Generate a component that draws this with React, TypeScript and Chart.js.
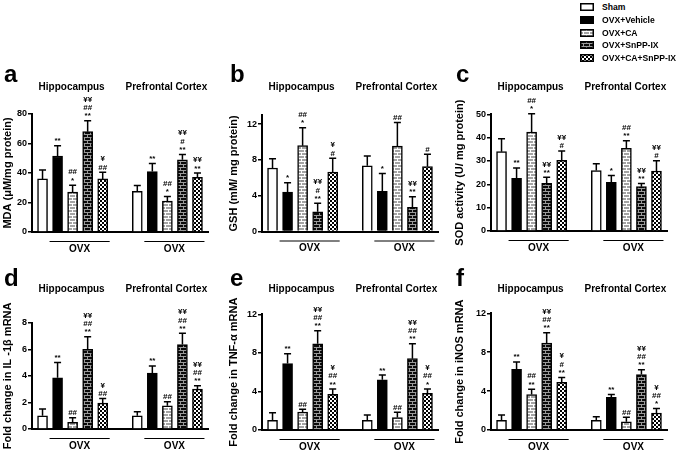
import React, { useEffect, useRef } from 'react';
import { Chart, registerables } from 'chart.js';

Chart.register(...registerables);

const FONT = "'Liberation Sans', Arial, Helvetica, sans-serif";

// ---------- data ----------
const GROUPS = ['Sham', 'OVX+Vehicle', 'OVX+CA', 'OVX+SnPP-IX', 'OVX+CA+SnPP-IX'];
const REGIONS = ['Hippocampus', 'Prefrontal Cortex'];
const OVX_LABEL = 'OVX';

// (a) MDA
const MDA_TITLE = 'MDA (\u03bcM/mg protein)';
const MDA_TICKS = [0, 20, 40, 60, 80];
const MDA_HIP = [36, 51.5, 27, 68, 36];
const MDA_HIP_ERR = [6, 7, 4.7, 7.5, 4.5];
const MDA_PFC = [27.5, 41, 21, 49, 37];
const MDA_PFC_ERR = [4, 5.5, 3, 3.5, 3];
const MDA_HIP_SIG = ['', '**', '##\n*', '\u00a5\u00a5\n##\n**', '\u00a5\n##'];
const MDA_PFC_SIG = ['', '**', '##\n*', '\u00a5\u00a5\n#\n**', '\u00a5\u00a5\n**'];

// (b) GSH
const GSH_TITLE = 'GSH (mM/ mg protein)';
const GSH_TICKS = [0, 4, 8, 12];
const GSH_HIP = [7.1, 4.4, 9.6, 2.2, 6.65];
const GSH_HIP_ERR = [1.05, 1.05, 2.0, 0.95, 1.55];
const GSH_PFC = [7.35, 4.5, 9.55, 2.7, 7.25];
const GSH_PFC_ERR = [1.1, 2.0, 2.65, 1.2, 1.4];
const GSH_HIP_SIG = ['', '*', '##\n*', '\u00a5\u00a5\n#\n**', '\u00a5\n#'];
const GSH_PFC_SIG = ['', '*', '##', '\u00a5\u00a5\n**', '#'];

// (c) SOD
const SOD_TITLE = 'SOD activity (U/ mg protein)';
const SOD_TICKS = [0, 10, 20, 30, 40, 50];
const SOD_HIP = [34, 22.6, 42.4, 20.4, 30.3];
const SOD_HIP_ERR = [5.5, 4.4, 7.8, 2.6, 4];
const SOD_PFC = [25.9, 20.9, 35.4, 19, 25.7];
const SOD_PFC_ERR = [2.9, 2.9, 3.3, 1.3, 4.4];
const SOD_HIP_SIG = ['', '**', '##\n*', '\u00a5\u00a5\n**', '\u00a5\u00a5\n#'];
const SOD_PFC_SIG = ['', '*', '##\n**', '\u00a5\u00a5\n**', '\u00a5\u00a5\n#'];

// (d) IL-1beta
const IL_TITLE = 'Fold change in IL -1\u03b2 mRNA';
const IL_TICKS = [0, 2, 4, 6, 8];
const IL_HIP = [1.0, 3.85, 0.5, 6.0, 1.95];
const IL_HIP_ERR = [0.5, 1.15, 0.35, 0.95, 0.35];
const IL_PFC = [1.0, 4.2, 1.75, 6.35, 3.0];
const IL_PFC_ERR = [0.3, 0.55, 0.3, 0.85, 0.25];
const IL_HIP_SIG = ['', '**', '##', '\u00a5\u00a5\n##\n**', '\u00a5\n##'];
const IL_PFC_SIG = ['', '**', '##', '\u00a5\u00a5\n##\n**', '\u00a5\u00a5\n##\n**'];

// (e) TNF-alpha
const TNF_TITLE = 'Fold change in TNF-\u03b1 mRNA';
const TNF_TICKS = [0, 4, 8, 12];
const TNF_HIP = [1.0, 6.9, 1.85, 8.95, 3.7];
const TNF_HIP_ERR = [0.8, 1.0, 0.3, 1.35, 0.55];
const TNF_PFC = [1.0, 5.2, 1.3, 7.4, 3.8];
const TNF_PFC_ERR = [0.55, 0.5, 0.55, 1.55, 0.45];
const TNF_HIP_SIG = ['', '**', '##', '\u00a5\u00a5\n##\n**', '\u00a5\n##\n**'];
const TNF_PFC_SIG = ['', '**', '##', '\u00a5\u00a5\n##\n**', '\u00a5\n##\n*'];

// (f) iNOS
const INOS_TITLE = 'Fold change in iNOS mRNA';
const INOS_TICKS = [0, 4, 8, 12];
const INOS_HIP = [1.0, 6.25, 3.65, 8.95, 4.9];
const INOS_HIP_ERR = [0.55, 0.75, 0.55, 1.05, 0.5];
const INOS_PFC = [1.0, 3.35, 0.85, 5.7, 1.75];
const INOS_PFC_ERR = [0.35, 0.3, 0.45, 0.5, 0.45];
const INOS_HIP_SIG = ['', '**', '##\n**', '\u00a5\u00a5\n##\n**', '\u00a5\n#\n**'];
const INOS_PFC_SIG = ['', '**', '##', '\u00a5\u00a5\n##\n**', '\u00a5\n##\n*'];

// ---------- layout ----------
const GROUP_SHIFT = 6.3; // index distance between the two region groups
const X_MIN = -0.7;
const X_MAX = 11.0;
const AXIS_W = 176;

const xPos = (r: number, g: number) => r * GROUP_SHIFT + g;

type Panel = {
  letter: string; yTitle: string; ticks: number[]; yMax: number;
  values: number[][]; errors: number[][]; sigs: string[][];
  left: number; top: number; w: number; h: number;
  axisX: number; chartTop: number; chartBottom: number; titleY: number; letterY: number;
};

const PANELS: Panel[] = [
  { letter: 'a', yTitle: MDA_TITLE, ticks: MDA_TICKS, yMax: 80,
    values: [MDA_HIP, MDA_PFC], errors: [MDA_HIP_ERR, MDA_PFC_ERR], sigs: [MDA_HIP_SIG, MDA_PFC_SIG],
    left: 0, top: 60, w: 226, h: 193, axisX: 32, chartTop: 114, chartBottom: 232, titleY: 27, letterY: 15 },
  { letter: 'b', yTitle: GSH_TITLE, ticks: GSH_TICKS, yMax: 13,
    values: [GSH_HIP, GSH_PFC], errors: [GSH_HIP_ERR, GSH_PFC_ERR], sigs: [GSH_HIP_SIG, GSH_PFC_SIG],
    left: 226, top: 60, w: 226, h: 193, axisX: 262, chartTop: 115.3, chartBottom: 231.5, titleY: 27, letterY: 15 },
  { letter: 'c', yTitle: SOD_TITLE, ticks: SOD_TICKS, yMax: 50,
    values: [SOD_HIP, SOD_PFC], errors: [SOD_HIP_ERR, SOD_PFC_ERR], sigs: [SOD_HIP_SIG, SOD_PFC_SIG],
    left: 452, top: 60, w: 224, h: 193, axisX: 491, chartTop: 114.3, chartBottom: 231, titleY: 27, letterY: 15 },
  { letter: 'd', yTitle: IL_TITLE, ticks: IL_TICKS, yMax: 8,
    values: [IL_HIP, IL_PFC], errors: [IL_HIP_ERR, IL_PFC_ERR], sigs: [IL_HIP_SIG, IL_PFC_SIG],
    left: 0, top: 258, w: 226, h: 195, axisX: 32, chartTop: 322.7, chartBottom: 429, titleY: 31, letterY: 21 },
  { letter: 'e', yTitle: TNF_TITLE, ticks: TNF_TICKS, yMax: 12,
    values: [TNF_HIP, TNF_PFC], errors: [TNF_HIP_ERR, TNF_PFC_ERR], sigs: [TNF_HIP_SIG, TNF_PFC_SIG],
    left: 226, top: 258, w: 226, h: 195, axisX: 262, chartTop: 314.3, chartBottom: 430, titleY: 31, letterY: 21 },
  { letter: 'f', yTitle: INOS_TITLE, ticks: INOS_TICKS, yMax: 12,
    values: [INOS_HIP, INOS_PFC], errors: [INOS_HIP_ERR, INOS_PFC_ERR], sigs: [INOS_HIP_SIG, INOS_PFC_SIG],
    left: 452, top: 258, w: 224, h: 195, axisX: 491, chartTop: 313.3, chartBottom: 430, titleY: 31, letterY: 21 },
];

// ---------- fill patterns ----------
function makeTile(kind: number): HTMLCanvasElement {
  const c = document.createElement('canvas');
  const x = c.getContext('2d')!;
  if (kind === 2 || kind === 3) {
    c.width = 6; c.height = 6;
    x.fillStyle = kind === 2 ? '#a4a4a4' : '#0a0a0a';
    x.fillRect(0, 0, 6, 6);
    x.fillStyle = kind === 2 ? '#ffffff' : '#9a9a9a';
    x.fillRect(0, 2, 6, 1);
    x.fillRect(0, 5, 6, 1);
    x.fillRect(0, 0, 1, 2);
    x.fillRect(3, 3, 1, 2);
  } else if (kind === 4) {
    c.width = 4; c.height = 4;
    x.fillStyle = '#ffffff';
    x.fillRect(0, 0, 4, 4);
    x.fillStyle = '#000000';
    x.fillRect(0, 0, 2, 2);
    x.fillRect(2, 2, 2, 2);
  } else {
    c.width = 2; c.height = 2;
    x.fillStyle = kind === 1 ? '#000000' : '#ffffff';
    x.fillRect(0, 0, 2, 2);
  }
  return c;
}

function fills(ctx: CanvasRenderingContext2D): (string | CanvasPattern)[] {
  return GROUPS.map((_, i) => {
    if (i === 0) return '#ffffff';
    if (i === 1) return '#000000';
    return ctx.createPattern(makeTile(i), 'repeat') as CanvasPattern;
  });
}

// ---------- overlay plugin ----------
function overlay(p: Panel) {
  return {
    id: 'overlay_' + p.letter,
    afterDatasetsDraw(chart: any) {
      const { ctx, chartArea } = chart;
      const xs = chart.scales.x;
      const ys = chart.scales.y;
      ctx.save();
      ctx.strokeStyle = '#000';
      ctx.fillStyle = '#000';
      for (let r = 0; r < REGIONS.length; r++) {
        for (let g = 0; g < GROUPS.length; g++) {
          const cx = xs.getPixelForValue(xPos(r, g));
          const v = p.values[r][g];
          const e = p.errors[r][g];
          const yb = ys.getPixelForValue(v);
          const yt = ys.getPixelForValue(v + e);
          ctx.lineWidth = 1.5;
          ctx.beginPath();
          ctx.moveTo(cx, yb);
          ctx.lineTo(cx, yt);
          ctx.moveTo(cx - 3.5, yt);
          ctx.lineTo(cx + 3.5, yt);
          ctx.stroke();
          const s = p.sigs[r][g];
          if (s) {
            const lines = s.split('\n');
            ctx.font = `bold 8px ${FONT}`;
            ctx.textAlign = 'center';
            ctx.textBaseline = 'alphabetic';
            let base = yt - 2.5;
            for (let k = lines.length - 1; k >= 0; k--) {
              ctx.fillText(lines[k], cx, base);
              base -= 8.3;
            }
          }
        }
        ctx.font = `bold 10px ${FONT}`;
        ctx.textAlign = 'center';
        ctx.textBaseline = 'middle';
        ctx.fillText(REGIONS[r], xs.getPixelForValue(xPos(r, 2)) - 1, p.titleY);
        const x1 = xs.getPixelForValue(xPos(r, 1)) - 8;
        const x2 = xs.getPixelForValue(xPos(r, 4)) + 7;
        const ly = chartArea.bottom + 9.5;
        ctx.lineWidth = 1;
        ctx.beginPath();
        ctx.moveTo(x1, ly);
        ctx.lineTo(x2, ly);
        ctx.stroke();
        ctx.fillText(OVX_LABEL, (x1 + x2) / 2, chartArea.bottom + 17);
      }
      ctx.font = `bold 24px ${FONT}`;
      ctx.textAlign = 'left';
      ctx.textBaseline = 'middle';
      ctx.fillText(p.letter, 4, p.letterY);
      ctx.restore();
    },
  };
}

function PanelChart({ p }: { p: Panel }) {
  const ref = useRef<HTMLCanvasElement>(null);
  useEffect(() => {
    const canvas = ref.current!;
    const ctx = canvas.getContext('2d')!;
    const bg = fills(ctx);
    const yW = p.axisX - p.left;
    const topPad = p.chartTop - p.top;
    const xH = p.h - (p.chartBottom - p.top);
    const rightPad = p.w - (yW + AXIS_W);
    const chart = new Chart(canvas, {
      type: 'bar',
      data: {
        datasets: GROUPS.map((g, gi) => ({
          label: g,
          data: REGIONS.map((_, r) => ({ x: xPos(r, gi), y: p.values[r][gi] })),
          backgroundColor: bg[gi],
          borderColor: '#000',
          borderWidth: 1.5,
          barThickness: 10,
          grouped: false,
        })),
      } as any,
      options: {
        animation: false,
        responsive: false,
        events: [],
        layout: { padding: { top: topPad, right: rightPad, left: 0, bottom: 0 } },
        plugins: { legend: { display: false }, tooltip: { enabled: false } },
        scales: {
          x: {
            type: 'linear',
            offset: false,
            bounds: 'data',
            min: X_MIN,
            max: X_MAX,
            grid: { display: false, offset: false },
            ticks: { display: false },
            border: { display: true, color: '#000', width: 2 },
            afterFit: (s: any) => { s.height = xH; },
          },
          y: {
            type: 'linear',
            min: 0,
            max: p.yMax,
            afterBuildTicks: (s: any) => { s.ticks = p.ticks.map((v) => ({ value: v })); },
            ticks: { color: '#000', font: { family: FONT, weight: 'bold', size: 9 }, padding: 1 },
            grid: { display: true, drawOnChartArea: false, drawTicks: true, tickLength: 4, color: '#000', lineWidth: 1.5 },
            border: { display: true, color: '#000', width: 2 },
            title: {
              display: true, text: p.yTitle, color: '#000',
              font: { family: FONT, weight: 'bold', size: 11 },
              padding: { top: 1, bottom: 0 },
            },
            afterFit: (s: any) => { s.width = yW; },
          },
        },
      } as any,
      plugins: [overlay(p)],
    });
    return () => chart.destroy();
  }, [p]);
  return (
    <canvas
      ref={ref}
      width={p.w}
      height={p.h}
      style={{ position: 'absolute', left: p.left, top: p.top, width: p.w, height: p.h }}
    />
  );
}

function Swatch({ kind }: { kind: number }) {
  const ref = useRef<HTMLCanvasElement>(null);
  useEffect(() => {
    const c = ref.current!;
    const x = c.getContext('2d')!;
    x.clearRect(0, 0, 14, 8);
    x.fillStyle = fills(x)[kind] as any;
    x.fillRect(0, 0, 14, 8);
    x.strokeStyle = '#000';
    x.lineWidth = 1.5;
    x.strokeRect(0.75, 0.75, 12.5, 6.5);
  }, [kind]);
  return <canvas ref={ref} width={14} height={8} style={{ width: 14, height: 8, display: 'block' }} />;
}

function Legend() {
  return (
    <div style={{ position: 'absolute', left: 580, top: 0 }}>
      {GROUPS.map((g, i) => (
        <div
          key={g}
          style={{
            position: 'absolute', left: 0, top: 1 + i * 12.8, height: 12,
            display: 'flex', alignItems: 'center', whiteSpace: 'nowrap',
          }}
        >
          <Swatch kind={i} />
          <span style={{ marginLeft: 8, font: `bold 8.6px ${FONT}`, color: '#000' }}>{g}</span>
        </div>
      ))}
    </div>
  );
}

export default function App() {
  return (
    <div
      style={{
        position: 'absolute', left: 0, top: 0, width: 676, height: 453,
        background: '#fff', overflow: 'hidden',
      }}
    >
      {PANELS.map((p) => <PanelChart key={p.letter} p={p} />)}
      <Legend />
    </div>
  );
}
